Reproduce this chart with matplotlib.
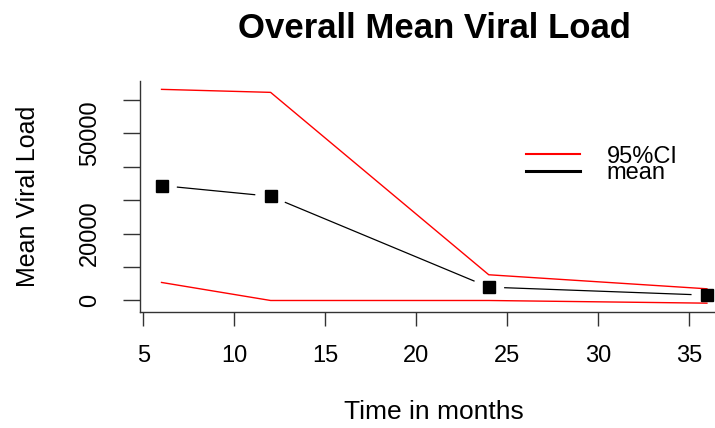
import numpy as np
import matplotlib.pyplot as plt
from matplotlib.lines import Line2D

months = [6, 12, 24, 36]
mean_load = [34400, 31200, 4000, 1600]
upper_ci = [63200, 62300, 7700, 3500]
lower_ci = [5400, 0, 0, -800]

x_ticks = [5, 10, 15, 20, 25, 30, 35]
y_ticks = [0, 10000, 20000, 30000, 40000, 50000, 60000]
y_ticklabels = ['0', '', '20000', '', '', '50000', '']

plt.rcParams['font.family'] = ['Liberation Sans', 'DejaVu Sans']

fig = plt.figure(figsize=(7.15, 4.28), dpi=100)
ax = fig.add_axes([0.1954, 0.2717, 0.8238, 0.5395])

ax.plot(months, upper_ci, color='red', lw=1.0)
ax.plot(months, lower_ci, color='red', lw=1.0)
ax.plot(months, mean_load, 's', color='black', ms=8.5)
ax.margins(x=0.04, y=0.04)
ax.set_xlim(ax.get_xlim())
ax.set_ylim(ax.get_ylim())

# lines stop short of the points, like R's type="b"
gap = 16
pts = ax.transData.transform(np.column_stack([months, mean_load]))
inv = ax.transData.inverted()
for p0, p1 in zip(pts[:-1], pts[1:]):
    u = (p1 - p0) / np.hypot(*(p1 - p0))
    seg = inv.transform([p0 + u * gap, p1 - u * gap])
    ax.plot(seg[:, 0], seg[:, 1], color='black', lw=0.9)

ax.spines['top'].set_visible(False)
ax.spines['right'].set_visible(False)
for s in ['left', 'bottom']:
    ax.spines[s].set_linewidth(1.0)
    ax.spines[s].set_color('#333333')

ax.set_xticks(x_ticks)
ax.set_yticks(y_ticks)
ax.set_yticklabels(y_ticklabels, rotation=90, va='center')
ax.tick_params(axis='x', length=10, width=1.0, pad=14, labelsize=17, color='#333333')
ax.tick_params(axis='y', length=12, width=1.0, pad=16, labelsize=17, color='#333333')

ax.set_title('Overall Mean Viral Load', fontsize=25, fontweight='bold', pad=31)
ax.set_xlabel('Time in months', fontsize=19, labelpad=24)
ax.set_ylabel('Mean Viral Load', fontsize=18, labelpad=28)

handles = [Line2D([], [], color='red', lw=1.5), Line2D([], [], color='black', lw=2.2)]
ax.legend(handles, ['95%CI', 'mean'], frameon=False, fontsize=17,
          loc='upper left', bbox_to_anchor=(0.64, 0.76), handlelength=2.3,
          handletextpad=1.1, labelspacing=-0.25, borderaxespad=0)

fig.savefig('out.png', dpi=100)
